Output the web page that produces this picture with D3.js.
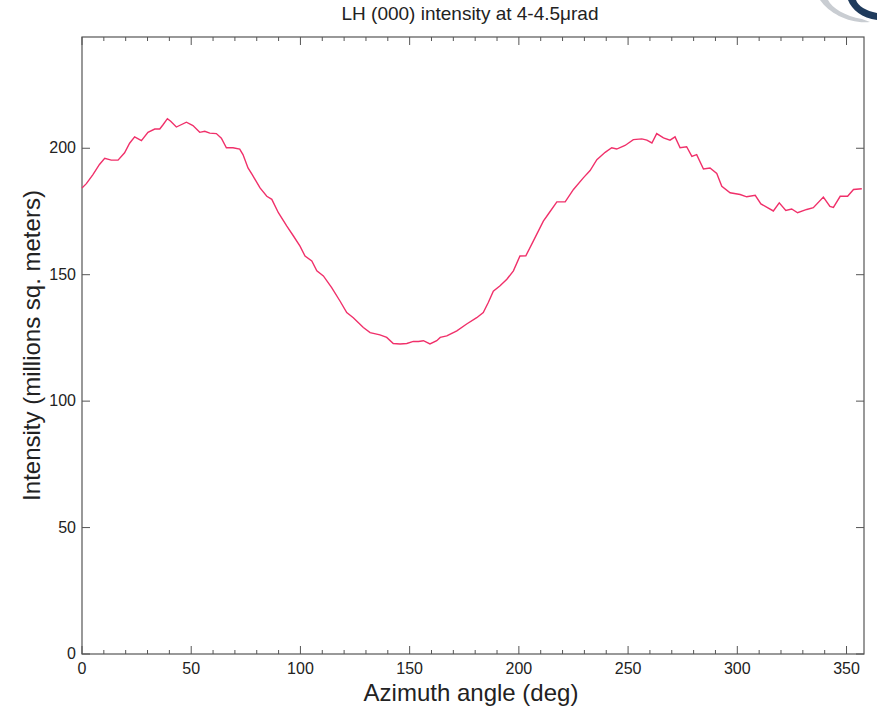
<!DOCTYPE html>
<html>
<head>
<meta charset="utf-8">
<script src="https://cdn.jsdelivr.net/npm/d3@7"></script>
<style>
  body { margin: 0; background: #fff; }
  text { font-family: "Liberation Sans", Arial, sans-serif; fill: #222; }
</style>
</head>
<body>
<div id="chart"></div>
<script>
(function(){

  var width = 877, height = 711;

  // azimuth angle (deg) and intensity (millions sq. meters)
  var angles = [0, 2, 5, 8, 10.4, 13.4, 16.5, 19.5, 21.8, 24.1, 27.2, 30.2, 33.3, 35.6, 37.1, 39.1,
    40.6, 43.2, 47.8, 50.8, 53.9, 56.2, 58.5, 61.5, 63.8, 66.1, 69.1, 72.2, 73.7, 76, 78, 81.5,
    84.6, 86.9, 89.9, 93.7, 96.8, 99.8, 102.1, 105.2, 107.5, 110.5, 114.3, 118.1, 121.2, 124.2,
    128.8, 131.9, 136.4, 139.5, 142.5, 145.6, 148.7, 151.7, 154, 156.3, 159.3, 162.4, 164, 167,
    171.6, 176.1, 180.7, 183.7, 186, 188.3, 191.4, 194.5, 197.5, 200.5, 203.2, 206.6, 211.2,
    213.5, 217.4, 221.2, 225, 229.5, 232.6, 235.7, 239.5, 242.5, 244.8, 248.6, 252.4, 256.3,
    258.6, 260.9, 263.1, 266.2, 269.2, 271.5, 273.8, 276.8, 279.2, 281.4, 284.5, 287.5, 290.6,
    292.9, 296.7, 301.3, 304.3, 308.2, 310.8, 316.5, 319.2, 322.2, 324.9, 327.6, 331.8, 334.8,
    339.4, 342.4, 344, 347.1, 350.5, 353.2, 357];
  var intensity = [184.3, 186, 189.6, 193.6, 196, 195.3, 195.3, 198.2, 202, 204.5, 203, 206.3,
    207.6, 207.6, 209.3, 211.7, 210.7, 208.4, 210.3, 209, 206.3, 206.7, 206, 205.8, 204, 200.2,
    200.2, 199.7, 197.5, 192.2, 189.5, 184.3, 181, 179.8, 174.5, 169.3, 165.3, 161.3, 157.4,
    155.4, 151.5, 149.5, 144.9, 139.6, 135, 133, 129.1, 127.1, 126.2, 125.2, 122.8, 122.6, 122.8,
    123.6, 123.6, 123.9, 122.6, 123.9, 125.2, 125.8, 127.8, 130.5, 133, 135, 139, 143.5, 145.6,
    148.2, 151.5, 157.4, 157.5, 163.3, 171.2, 174, 178.8, 178.8, 183.7, 188.3, 191.2, 195.5,
    198.4, 200.2, 199.7, 201.1, 203.4, 203.7, 203.2, 202.1, 205.8, 204.1, 203.2, 204.5, 200.2,
    200.6, 196.8, 197.5, 191.8, 192.2, 190, 185, 182.4, 181.7, 180.8, 181.4, 178, 175.2, 178.4,
    175.4, 176, 174.5, 175.8, 176.5, 180.7, 177, 176.6, 181, 181, 183.7, 184];

  var xTicks = [0, 50, 100, 150, 200, 250, 300, 350];
  var yTicks = [0, 50, 100, 150, 200];

  var margin = {top: 37, right: 13, bottom: 57, left: 82};
  var w = width - margin.left - margin.right,
      h = height - margin.top - margin.bottom;

  var svg = d3.select("#chart").append("svg")
      .attr("width", width)
      .attr("height", height);

  var x = d3.scaleLinear().domain([0, 358]).range([0, w]);
  var y = d3.scaleLinear().domain([0, 244]).range([h, 0]);

  var g = svg.append("g")
      .attr("transform", "translate(" + margin.left + "," + margin.top + ")");

  var minor = d3.range(0, 358, 10);

  // bottom axis: inward ticks
  var bottom = g.append("g").attr("transform", "translate(0," + h + ")");
  bottom.selectAll(".mt").data(minor).enter().append("line")
      .attr("x1", x).attr("x2", x)
      .attr("y1", 0).attr("y2", function(d){ return d % 50 === 0 ? -8 : -4; })
      .attr("stroke", "#555");
  bottom.selectAll(".lbl").data(xTicks).enter().append("text")
      .attr("x", x).attr("y", 20)
      .attr("text-anchor", "middle")
      .style("font-size", "16px")
      .text(function(d){ return d; });

  // top axis mirror
  g.selectAll(".tt").data(minor).enter().append("line")
      .attr("x1", x).attr("x2", x)
      .attr("y1", 0).attr("y2", function(d){ return d % 50 === 0 ? 8 : 4; })
      .attr("stroke", "#555");

  // left and right axis ticks
  g.selectAll(".yl").data(yTicks).enter().append("line")
      .attr("x1", 0).attr("x2", 8)
      .attr("y1", y).attr("y2", y)
      .attr("stroke", "#555");
  g.selectAll(".yr").data(yTicks).enter().append("line")
      .attr("x1", w).attr("x2", w - 8)
      .attr("y1", y).attr("y2", y)
      .attr("stroke", "#555");
  g.selectAll(".ylbl").data(yTicks).enter().append("text")
      .attr("x", -6).attr("y", function(d){ return y(d) + 5; })
      .attr("text-anchor", "end")
      .style("font-size", "16px")
      .text(function(d){ return d; });

  // frame
  g.append("rect")
      .attr("width", w).attr("height", h)
      .attr("fill", "none")
      .attr("stroke", "#555")
      .attr("stroke-width", 1.2);

  // the curve
  var line = d3.line()
      .x(function(d, i){ return x(angles[i]); })
      .y(function(d){ return y(d); });

  g.append("path")
      .datum(intensity)
      .attr("d", line)
      .attr("fill", "none")
      .attr("stroke", "#f0306a")
      .attr("stroke-width", 1.4);

  // titles
  svg.append("text")
      .attr("x", 470).attr("y", 20)
      .attr("text-anchor", "middle")
      .style("font-size", "19px")
      .text("LH (000) intensity at 4-4.5\u03bcrad");

  svg.append("text")
      .attr("x", 471).attr("y", 701)
      .attr("text-anchor", "middle")
      .style("font-size", "24px")
      .text("Azimuth angle (deg)");

  svg.append("text")
      .attr("transform", "translate(40," + (margin.top + h / 2) + ") rotate(-90)")
      .attr("text-anchor", "middle")
      .style("font-size", "24px")
      .text("Intensity (millions sq. meters)");

  // corner logo fragment
  svg.append("path")
      .attr("d", "M848,0 C852,10 862,18 877,20 L877,13 C866,11 858,6 856,0 Z")
      .attr("fill", "#1f3b5c");
  svg.append("path")
      .attr("d", "M820,0 C830,14 850,24 870,22 L862,19 C845,16 832,8 828,0 Z")
      .attr("fill", "#c9cdd2");

})();
</script>
</body>
</html>
